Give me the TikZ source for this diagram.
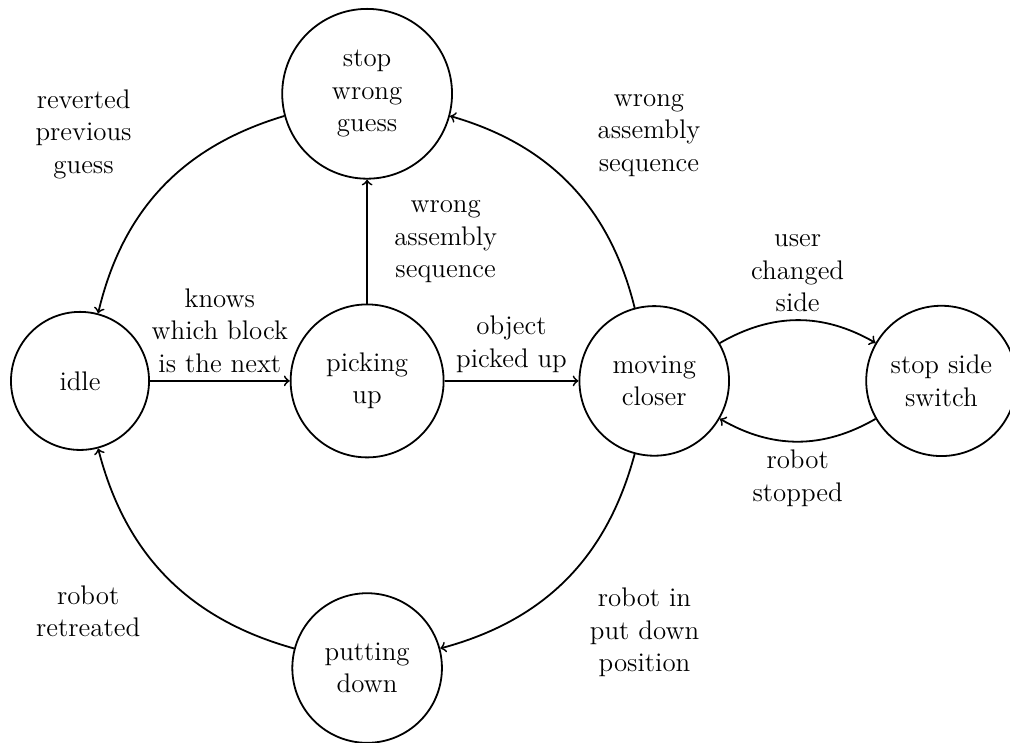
\documentclass[12pt,tikz,border=0pt]{standalone}
\usetikzlibrary{positioning}

\begin{document}
\begin{tikzpicture}
[state/.style={circle,draw=black,thick,text width=1.77cm,align=center,inner sep=4.4pt},
 lbl/.style={text width=2.2cm,align=center,inner sep=3.33pt},
 node distance=4.5cm,
 thick]
\useasboundingbox (-1.254,-5.66) rectangle ++(15.83,11.63);
\node[state] (idle) at (0,0)                          {idle};
\node[state] (pick) [on grid,right=of idle]           {picking\\up};
\node[state] (move) [on grid,right=of pick]           {moving\\closer};
\node[state] (side) [on grid,right=of move]           {stop side\\switch};
\node[state] (wrong) [on grid,above=of pick]          {stop\\wrong\\guess};
\node[state] (put)  [on grid,below=of pick]           {putting\\down};

\path[->] (idle)  edge node[lbl,above] (lknows) {knows\\which block\\is the next} (pick);
\path[->] (pick)  edge node[lbl,above] (lobj) {object\\picked up} (move);
\path[->] (pick)  edge node[lbl,right] (lseq) {wrong\\assembly\\sequence} (wrong);
\path[->] (move)  edge[bend right] node[lbl,above right] (lseqb) {wrong\\assembly\\sequence} (wrong);
\path[->] (wrong) edge[bend right] node[lbl,above left] (lrev) {reverted\\previous\\guess} (idle);
\path[->] (move)  edge[bend left] node[lbl,below right] (lpos) {robot in\\put down\\position} (put);
\path[->] (put)   edge[bend left] node[lbl,below left] (lret) {robot\\retreated} (idle);
\path[->] (move)  edge[bend left] node[lbl,above] (luser) {user\\changed\\side} (side);
\path[->] (side)  edge[bend left] node[lbl,below] (lstop) {robot\\stopped} (move);
\end{tikzpicture}
\end{document}
